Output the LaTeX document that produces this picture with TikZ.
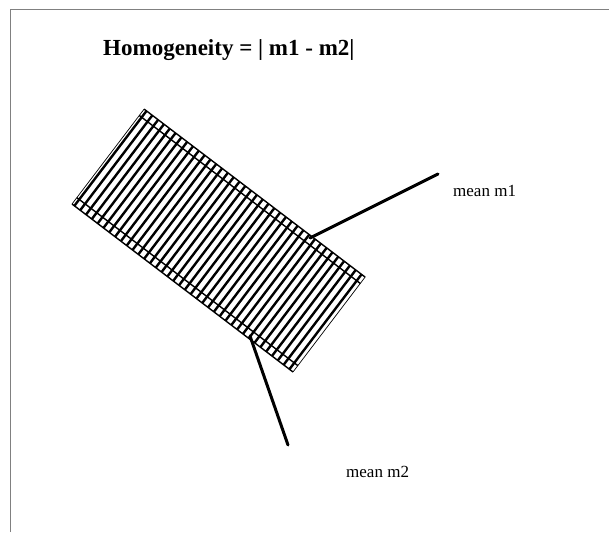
\documentclass[tikz,border=0pt]{standalone}
\usepackage{fontspec}
\setmainfont{Liberation Serif}
\begin{document}
\begin{tikzpicture}[x=1pt,y=1pt,
  frame/.style={draw=black!50,line width=0.9pt},
  edge/.style={line width=1.4pt},
  thinedge/.style={line width=0.7pt},
  stripe/.style={line width=2.4pt},
  pointer/.style={line width=3pt,line cap=round},
  lbl/.style={font=\fontsize{17}{19}\selectfont,anchor=base west,inner sep=0pt}]
\useasboundingbox (0,0) rectangle (609,-532);
\draw[frame] (10,-532) -- (10,-9) -- (609,-9);
\node[font=\bfseries\fontsize{23}{27}\selectfont, anchor=base west, inner sep=0pt] (title) at (103,-56) {Homogeneity = | m1 - m2|};
\begin{scope}[shift={(72,-204)}, rotate=-37.24]
  \begin{scope}
    \clip (0,0) rectangle (277.6,119.2);
    \foreach \k in {0,...,37} \draw[stripe] (\k*7.3+3,0) -- (\k*7.3+3,119.2);
  \end{scope}
  \draw[edge] (0,0) -- (277.6,0);
  \draw[edge] (0,119.2) -- (277.6,119.2);
  \draw[edge] (0,8) -- (277.6,8);
  \draw[edge] (0,111.2) -- (277.6,111.2);
  \draw[thinedge] (0,0) -- (0,119.2);
  \draw[thinedge] (277.6,0) -- (277.6,119.2);
\end{scope}
\coordinate (a1) at (310,-238);
\coordinate (b1) at (438,-174);
\coordinate (a2) at (250,-336);
\coordinate (b2) at (288,-445);
\draw[pointer] (a1) -- (b1);
\draw[pointer] (a2) -- (b2);
\node[lbl] (m1) at (453,-196) {mean m1};
\node[lbl] (m2) at (346,-477) {mean m2};
\end{tikzpicture}
\end{document}
